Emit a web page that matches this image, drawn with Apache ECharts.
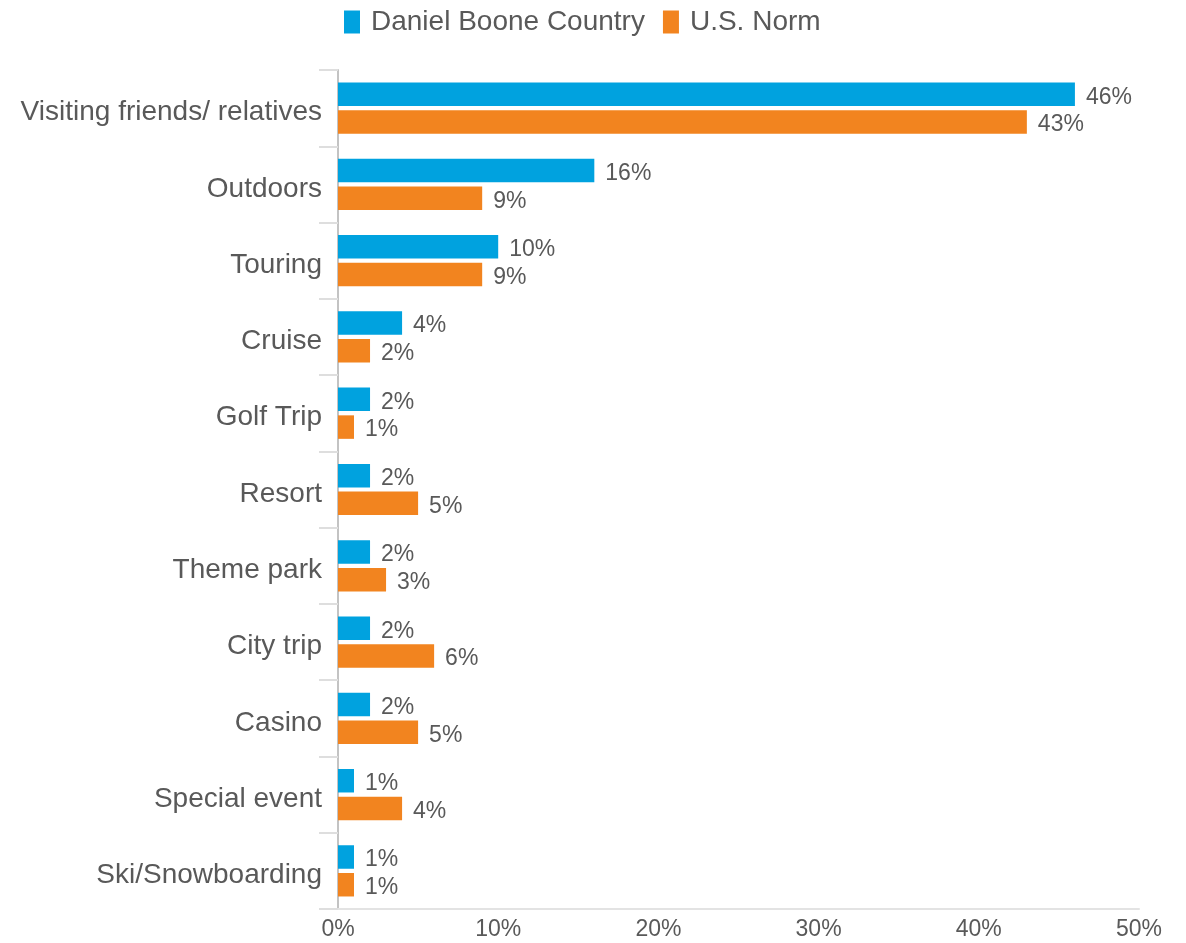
<!DOCTYPE html>
<html>
<head>
<meta charset="utf-8">
<title>Trip type</title>
<script src="https://cdn.jsdelivr.net/npm/echarts@6/dist/echarts.min.js"></script>
<style>
  html, body { margin: 0; padding: 0; background: #ffffff; }
  #chart { width: 1186px; height: 943px; }
</style>
</head>
<body>
<div id="chart"></div>
<script>
// Trip types, listed top to bottom
const categories = [
  'Visiting friends/ relatives', 'Outdoors', 'Touring', 'Cruise', 'Golf Trip',
  'Resort', 'Theme park', 'City trip', 'Casino', 'Special event', 'Ski/Snowboarding'
];
const seriesNames = ['Daniel Boone Country', 'U.S. Norm'];
const danielBoone = [46, 16, 10, 4, 2, 2, 2, 2, 2, 1, 1];
const usNorm = [43, 9, 9, 2, 1, 5, 3, 6, 5, 4, 1];
const xTicks = { min: 0, max: 50, interval: 10 };

const textColor = '#595959';
const fontFamily = '"Liberation Sans", Arial, Helvetica, sans-serif';

const chart = echarts.init(document.getElementById('chart'));

const valueLabel = {
  show: true,
  position: 'right',
  distance: 11,
  offset: [0, 3],
  formatter: p => p.value + '%',
  color: textColor,
  fontSize: 23,
  fontFamily
};

chart.setOption({
  animation: false,
  textStyle: { fontFamily },
  legend: {
    top: 3,
    left: 339,
    itemWidth: 16,
    itemHeight: 23,
    itemGap: 18,
    icon: 'rect',
    textStyle: { color: textColor, fontSize: 28, fontFamily, padding: [0, 0, 0, 6] },
    data: seriesNames
  },
  grid: { left: 338, right: 47, top: 70, bottom: 34, containLabel: false },
  xAxis: {
    type: 'value',
    min: xTicks.min,
    max: xTicks.max,
    interval: xTicks.interval,
    axisLine: { show: true, lineStyle: { color: '#e3e3e3', width: 2 } },
    axisTick: { show: false },
    splitLine: { show: false },
    axisLabel: {
      formatter: v => v + '%',
      color: textColor,
      fontSize: 23,
      fontFamily,
      margin: 9
    }
  },
  yAxis: {
    type: 'category',
    inverse: true,
    data: categories,
    axisLine: { show: true, lineStyle: { color: '#c3c3c3', width: 2 } },
    axisTick: { show: true, length: 19, lineStyle: { color: '#dedede', width: 2 } },
    axisLabel: {
      color: textColor,
      fontSize: 28,
      fontFamily,
      margin: 16,
      verticalAlign: 'top',
      lineHeight: 9
    }
  },
  series: [
    {
      name: seriesNames[0],
      type: 'bar',
      data: danielBoone,
      barWidth: 23.5,
      barGap: '18%',
      itemStyle: { color: '#00a2df' },
      label: valueLabel
    },
    {
      name: seriesNames[1],
      type: 'bar',
      data: usNorm,
      barWidth: 23.5,
      barGap: '18%',
      itemStyle: { color: '#f2841f' },
      label: valueLabel
    }
  ]
});
</script>
</body>
</html>
